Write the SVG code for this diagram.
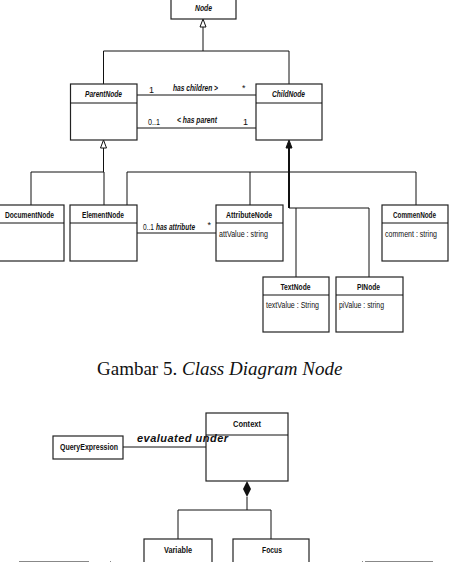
<svg xmlns="http://www.w3.org/2000/svg" width="454" height="562" viewBox="0 0 454 562">
<style>
.box{fill:#fff;stroke:#222;stroke-width:1.2}
.ln{fill:none;stroke:#111;stroke-width:1}
.thick{fill:none;stroke:#111;stroke-width:2}
.t{font-family:"Liberation Sans",Arial,sans-serif;font-size:9px;fill:#111}
.b{font-weight:bold}
.i{font-style:italic}
.m{text-anchor:middle}
.cap{font-family:"Liberation Serif","Times New Roman",serif;font-size:19px;fill:#111}
</style>
<rect width="454" height="562" fill="#fff"/>
<g id="connectors">
  <polyline class="ln" points="203,27 203,51"/>
  <polyline class="ln" points="103.5,84 103.5,51 289,51 289,84"/>
  <polygon points="203,19 206,27 200,27" fill="#fff" stroke="#111" stroke-width="1"/>
  <line class="ln" x1="137" y1="95" x2="256" y2="95"/>
  <line class="ln" x1="137" y1="128" x2="256" y2="128"/>
  <polyline class="ln" points="103.5,148 103.5,172"/>
  <polyline class="ln" points="31,205 31,172 104,172 104,205"/>
  <polygon points="103.5,140 106.5,148 100.5,148" fill="#fff" stroke="#111" stroke-width="1"/>
  <polyline class="ln" points="127,205 127,172 416,172 416,205"/>
  <line class="ln" x1="250" y1="172" x2="250" y2="205"/>
  <polyline class="thick" points="289,146 289,208"/>
  <polyline class="ln" points="289,208 369,208 369,277"/>
  <line class="ln" x1="296" y1="208" x2="296" y2="277"/>
  <polygon points="289,140 292,148 286,148" fill="#111" stroke="#111" stroke-width="1"/>
  <line class="ln" x1="137" y1="233" x2="216" y2="233"/>
  <line class="ln" x1="123" y1="447" x2="206" y2="447"/>
  <polyline class="ln" points="247,497 247,510"/>
  <polyline class="ln" points="178,539 178,510 271,510 271,539"/>
  <polygon points="247,481 251,489 247,497 243,489" fill="#111"/>
</g>
<g id="Node">
  <rect class="box" x="171" y="-2" width="65" height="21"/>
  <text class="t b i m" x="203.5" y="11" textLength="17" lengthAdjust="spacingAndGlyphs">Node</text>
</g>
<g id="ParentNode">
  <rect class="box" x="70.5" y="84" width="66.5" height="56"/>
  <line class="ln" x1="70.5" y1="103" x2="137" y2="103"/>
  <text class="t b i m" x="103.5" y="97" textLength="37" lengthAdjust="spacingAndGlyphs">ParentNode</text>
</g>
<g id="ChildNode">
  <rect class="box" x="256" y="84" width="66" height="56"/>
  <line class="ln" x1="256" y1="103" x2="322" y2="103"/>
  <text class="t b i m" x="288.5" y="97" textLength="33" lengthAdjust="spacingAndGlyphs">ChildNode</text>
</g>
<g id="DocumentNode">
  <rect class="box" x="-1" y="205" width="65" height="56"/>
  <line class="ln" x1="-1" y1="223" x2="64" y2="223"/>
  <text class="t b m" x="29.5" y="218" textLength="49" lengthAdjust="spacingAndGlyphs">DocumentNode</text>
</g>
<g id="ElementNode">
  <rect class="box" x="70" y="205" width="67" height="56"/>
  <line class="ln" x1="70" y1="223" x2="137" y2="223"/>
  <text class="t b m" x="103" y="218" textLength="42" lengthAdjust="spacingAndGlyphs">ElementNode</text>
</g>
<g id="AttributeNode">
  <rect class="box" x="216" y="205" width="67" height="56"/>
  <line class="ln" x1="216" y1="223" x2="283" y2="223"/>
  <text class="t b m" x="249" y="218" textLength="46" lengthAdjust="spacingAndGlyphs">AttributeNode</text>
  <text class="t" x="219" y="237" textLength="49" lengthAdjust="spacingAndGlyphs">attValue : string</text>
</g>
<g id="CommenNode">
  <rect class="box" x="382" y="205" width="66" height="56"/>
  <line class="ln" x1="382" y1="223" x2="448" y2="223"/>
  <text class="t b m" x="414.5" y="218" textLength="43" lengthAdjust="spacingAndGlyphs">CommenNode</text>
  <text class="t" x="385" y="237" textLength="52" lengthAdjust="spacingAndGlyphs">comment : string</text>
</g>
<g id="TextNode">
  <rect class="box" x="263" y="277" width="66" height="55"/>
  <line class="ln" x1="263" y1="295" x2="329" y2="295"/>
  <text class="t b m" x="295.5" y="290" textLength="30" lengthAdjust="spacingAndGlyphs">TextNode</text>
  <text class="t" x="266" y="308" textLength="53" lengthAdjust="spacingAndGlyphs">textValue : String</text>
</g>
<g id="PINode">
  <rect class="box" x="336" y="277" width="67" height="55"/>
  <line class="ln" x1="336" y1="295" x2="403" y2="295"/>
  <text class="t b m" x="368.5" y="290" textLength="23" lengthAdjust="spacingAndGlyphs">PINode</text>
  <text class="t" x="339" y="308" textLength="45" lengthAdjust="spacingAndGlyphs">piValue : string</text>
</g>
<g id="caption">
  <text class="cap" x="97" y="375">Gambar 5. <tspan font-style="italic">Class Diagram Node</tspan></text>
</g>
<g id="Context">
  <rect class="box" x="206" y="413" width="82" height="68"/>
  <line class="ln" x1="206" y1="435" x2="288" y2="435"/>
  <text class="t b m" x="247" y="427" textLength="28" lengthAdjust="spacingAndGlyphs">Context</text>
</g>
<g id="QueryExpression">
  <rect class="box" x="53" y="436" width="70" height="23"/>
  <text class="t b m" x="89" y="449.5" textLength="58" lengthAdjust="spacingAndGlyphs">QueryExpression</text>
</g>
<g id="Variable">
  <rect class="box" x="144" y="539" width="68" height="30"/>
  <text class="t b m" x="178" y="553" textLength="28" lengthAdjust="spacingAndGlyphs">Variable</text>
</g>
<g id="Focus">
  <rect class="box" x="233" y="539" width="76" height="30"/>
  <text class="t b m" x="272" y="553" textLength="20" lengthAdjust="spacingAndGlyphs">Focus</text>
</g>
<g id="labels">
  <text class="t" x="149" y="93">1</text>
  <text class="t b i" x="173" y="91" textLength="45" lengthAdjust="spacingAndGlyphs">has children &gt;</text>
  <text class="t" x="242" y="91">*</text>
  <text class="t" x="148" y="125" textLength="12" lengthAdjust="spacingAndGlyphs">0..1</text>
  <text class="t b i" x="177" y="123" textLength="40" lengthAdjust="spacingAndGlyphs">&lt; has parent</text>
  <text class="t" x="243" y="125">1</text>
  <text class="t" x="143" y="230" textLength="11" lengthAdjust="spacingAndGlyphs">0..1</text>
  <text class="t b i" x="156" y="230" textLength="39" lengthAdjust="spacingAndGlyphs">has attribute</text>
  <text class="t" x="207.5" y="228">*</text>
  <text x="137" y="442" font-family="'Liberation Sans',Arial,sans-serif" font-size="11" font-weight="bold" font-style="italic" fill="#111" textLength="91" lengthAdjust="spacing">evaluated under</text>
</g>
<g id="page-edge" stroke="#888" stroke-width="1">
  <line x1="19" y1="561.5" x2="89" y2="561.5"/>
  <line x1="110" y1="561.5" x2="111" y2="561.5"/>
  <line x1="362" y1="561.5" x2="363" y2="561.5"/>
  <line x1="365" y1="561.5" x2="433" y2="561.5"/>
</g>
</svg>
